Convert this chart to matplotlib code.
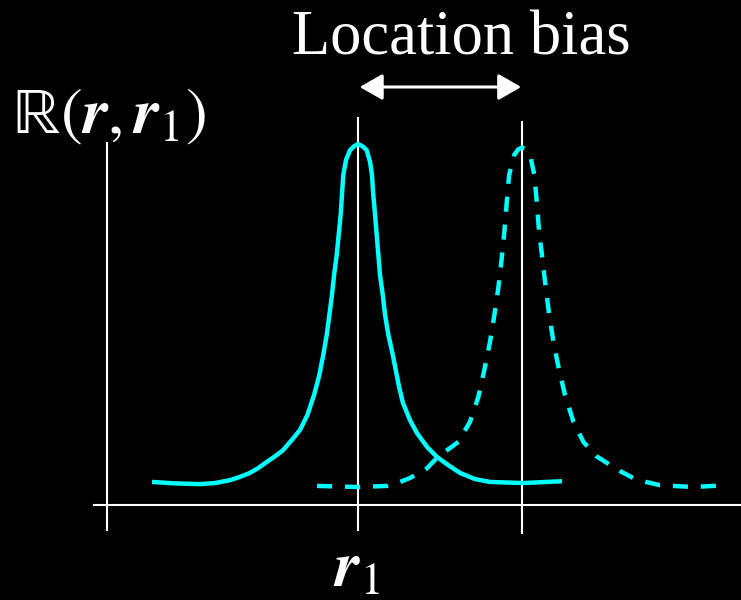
"""
Location bias sketch: the response R(r, r1) peaked at the true source
position r1 (solid) against a shifted, biased estimate (dashed).
"""
import matplotlib
matplotlib.use("Agg")
import matplotlib.pyplot as plt

plt.rcParams["mathtext.fontset"] = "stix"

# r in units of the bias distance (true peak at 0, biased peak at 1);
# response normalised so the true peak is 1
r_true = [-1.256, -1.116, -0.963, -0.872, -0.780, -0.720, -0.659, -0.610,
          -0.567, -0.512, -0.457, -0.404, -0.354, -0.309, -0.268, -0.236,
          -0.212, -0.191, -0.175, -0.159, -0.146, -0.130, -0.118, -0.106,
          -0.098, -0.090, -0.073, -0.049, -0.024, 0.0, 0.027, 0.053, 0.073,
          0.085, 0.093, 0.104, 0.114, 0.124, 0.134, 0.151, 0.165, 0.185,
          0.212, 0.236, 0.252, 0.274, 0.317, 0.360, 0.421, 0.482, 0.549,
          0.622, 0.713, 0.805, 1.006, 1.244]
resp_true = [0.064, 0.060, 0.058, 0.061, 0.069, 0.078, 0.089, 0.102,
             0.116, 0.133, 0.152, 0.180, 0.208, 0.249, 0.305, 0.360,
             0.416, 0.471, 0.526, 0.582, 0.637, 0.693, 0.748, 0.803,
             0.859, 0.914, 0.956, 0.983, 0.994, 1.0, 0.994, 0.983, 0.951,
             0.914, 0.859, 0.803, 0.748, 0.693, 0.637, 0.582, 0.526, 0.471,
             0.416, 0.360, 0.324, 0.283, 0.235, 0.199, 0.161, 0.133, 0.111,
             0.089, 0.072, 0.064, 0.061, 0.066]

r_biased = [-0.250, 0.0, 0.177, 0.256, 0.317, 0.421, 0.488, 0.561, 0.612,
            0.683, 0.734, 0.770, 0.803, 0.831, 0.855, 0.876, 0.892, 0.907,
            0.921, 0.953, 0.976, 1.0, 1.024, 1.049, 1.075, 1.090, 1.104,
            1.124, 1.145, 1.166, 1.193, 1.226, 1.262, 1.313, 1.374, 1.451,
            1.537, 1.598, 1.677, 1.756, 1.841, 2.043, 2.250]
resp_biased = [0.053, 0.050, 0.053, 0.064, 0.075, 0.102, 0.134, 0.158,
               0.175, 0.231, 0.300, 0.374, 0.448, 0.526, 0.600, 0.683,
               0.757, 0.840, 0.914, 0.970, 0.985, 0.990, 0.985, 0.970,
               0.914, 0.840, 0.757, 0.683, 0.600, 0.526, 0.448, 0.374,
               0.305, 0.231, 0.175, 0.136, 0.111, 0.094, 0.075, 0.064,
               0.055, 0.050, 0.055]

peaks = [0.0, 1.0]          # r1 and the biased location
axis_r = -1.53              # where the response axis sits

CYAN = "#00ffff"
WHITE = "white"

fig = plt.figure(figsize=(7.41, 6.0), dpi=100, facecolor="black")
ax = fig.add_axes([0, 0, 1, 1])
ax.set_facecolor("black")
ax.set_xlim(-2.183, 2.335)
ax.set_ylim(-0.263, 1.399)
ax.axis("off")

# hand-drawn style axes
ax.plot([axis_r, axis_r], [-0.069, 1.003], color=WHITE, lw=1.5)
ax.plot([-1.61, 2.335], [0, 0], color=WHITE, lw=1.5)
ax.plot([peaks[0]] * 2, [-0.069, 1.072], color=WHITE, lw=1.5)
ax.plot([peaks[1]] * 2, [-0.078, 1.061], color=WHITE, lw=1.5)

ax.plot(r_true, resp_true, color=CYAN, lw=3.2, solid_capstyle="butt",
        solid_joinstyle="round")
ax.plot(r_biased, resp_biased, color=CYAN, lw=3.2, dashes=(3.4, 2.9),
        dash_joinstyle="round")

ax.annotate("", xy=(peaks[0] + 0.01, 1.158), xytext=(peaks[1] - 0.005, 1.158),
            arrowprops=dict(arrowstyle="<|-|>,head_length=1.4,head_width=0.8",
                            color=WHITE, lw=2.2, shrinkA=0, shrinkB=0))

ax.text(0.628, 1.247, "Location bias", color=WHITE, fontsize=45,
        family="Liberation Serif", ha="center", va="baseline")
ax.text(-2.11, 1.03, r"$\mathrm{ℝ}(\boldsymbol{r},\boldsymbol{r}_1)$",
        color=WHITE, fontsize=47, ha="left", va="baseline")
ax.text(-0.012, -0.227, r"$\boldsymbol{r}_1$", color=WHITE, fontsize=46,
        ha="center", va="baseline")

fig.savefig("out.png", dpi=100, facecolor="black")
